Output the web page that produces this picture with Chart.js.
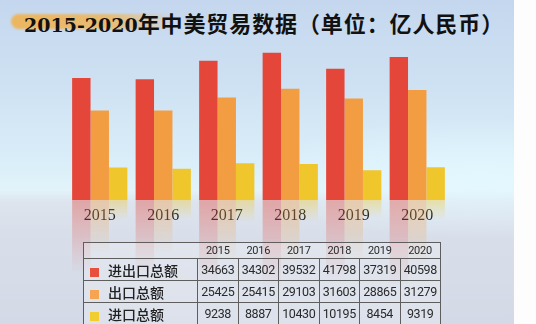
<!DOCTYPE html>
<html>
<head>
<meta charset="utf-8">
<script src="https://cdn.jsdelivr.net/npm/chart.js@4.4.0/dist/chart.umd.min.js"></script>
<style>
  html, body { margin: 0; padding: 0; width: 536px; height: 324px; overflow: hidden; background: #fdfdfe; }
  #bg {
    position: absolute; left: 0; top: 0; width: 514px; height: 324px;
    background:
      radial-gradient(ellipse 240px 60px at 480px 178px, rgba(228,248,255,0.9), rgba(228,248,255,0) 100%),
      linear-gradient(to bottom, #c5d7ee 0px, #cfe2f3 90px, #d9eef9 160px, #e2f3fa 190px, #dde4ee 202px, #d8dee9 240px, #d3d9e6 324px);
  }
  #title {
    position: absolute; left: 24px; top: 8px; white-space: nowrap;
    color: #111; line-height: 28px;
  }
  #title .num { font-family: "DejaVu Serif", serif; font-weight: bold; font-size: 19px; }
  #title .cjk { font-family: "Noto Sans CJK SC", sans-serif; font-weight: bold; font-size: 22px; letter-spacing: 0.9px; }
  #mark {
    position: absolute; left: 11px; top: 14px; width: 165px; height: 15px;
    border-radius: 8px;
    background: linear-gradient(to right, rgba(240,178,80,0.9) 0%, rgba(240,180,85,0.8) 60%, rgba(240,185,95,0) 100%);
    filter: blur(1px);
  }
  canvas { position: absolute; left: 0; top: 0; }
  #tbl {
    position: absolute; left: 83px; top: 242px; border-collapse: collapse; table-layout: fixed;
    width: 357px; background: rgba(255,255,255,0.22);
    font-family: Roboto, "Noto Sans CJK SC", sans-serif; color: #2a2a2a;
  }
  #tbl td { border: 1px solid #5e5e5e; padding: 0; text-align: center; font-size: 12.5px; letter-spacing: -0.4px; height: 21px; }
  #tbl tr.head td { height: 15px; font-size: 11px; letter-spacing: -0.3px; border-left: none; border-right: none; border-bottom: 1px solid #5e5e5e; }
  #tbl tr.head td:first-child { border-left: 1px solid #5e5e5e; }
  #tbl tr.head td:last-child { border-right: 1px solid #5e5e5e; }
  #tbl td.lab { text-align: left; font-family: "Noto Sans CJK SC", sans-serif; font-size: 14px; font-weight: 500; letter-spacing: 0; color: #222; }
  #tbl .sw { display: inline-block; width: 9px; height: 9px; margin: 0 9px 0 6px; vertical-align: -1px; }
</style>
</head>
<body>
<div id="bg"></div>
<div id="mark"></div>
<div id="title"><span class="num">2015-2020</span><span class="cjk">年中美贸易数据（单位：亿人民币）</span></div>
<canvas id="c" width="514" height="324"></canvas>
<table id="tbl"></table>
<script>
// data (亿人民币)
var years   = ['2015', '2016', '2017', '2018', '2019', '2020'];
var total   = [34663, 34302, 39532, 41798, 37319, 40598];
var exports = [25425, 25415, 29103, 31603, 28865, 31279];
var imports = [9238, 8887, 10430, 10195, 8454, 9319];
var names   = ['进出口总额', '出口总额', '进口总额'];
var colors  = ['#e4463a', '#f39d42', '#efc62c'];
var swatch  = ['#e8503e', '#f6a452', '#f2cd30'];

function hexA(hex, a) {
  var n = parseInt(hex.slice(1), 16);
  return 'rgba(' + (n >> 16) + ',' + ((n >> 8) & 255) + ',' + (n & 255) + ',' + a + ')';
}

// faded mirror of each bar under the baseline
var reflection = {
  id: 'reflection',
  afterDatasetsDraw: function (chart) {
    var ctx = chart.ctx;
    var base = chart.chartArea.bottom;
    chart.data.datasets.forEach(function (ds, i) {
      chart.getDatasetMeta(i).data.forEach(function (bar) {
        var h = (base - bar.y) * 0.6;
        var grad = ctx.createLinearGradient(0, base, 0, base + h);
        grad.addColorStop(0, hexA(ds.backgroundColor, 0.4));
        grad.addColorStop(1, hexA(ds.backgroundColor, 0));
        ctx.save();
        ctx.fillStyle = grad;
        ctx.fillRect(bar.x - bar.width / 2, base, bar.width, h);
        ctx.restore();
      });
    });
  }
};

new Chart(document.getElementById('c'), {
  type: 'bar',
  data: {
    labels: years,
    datasets: [
      { label: names[0], data: total,   backgroundColor: colors[0] },
      { label: names[1], data: exports, backgroundColor: colors[1] },
      { label: names[2], data: imports, backgroundColor: colors[2] }
    ]
  },
  options: {
    responsive: false, animation: false,
    categoryPercentage: 0.87, barPercentage: 1,
    layout: { padding: { left: 68, right: 65, top: 41.6, bottom: 0 } },
    plugins: { legend: { display: false }, tooltip: { enabled: false } },
    scales: {
      x: {
        z: 1,
        grid: { display: false, drawTicks: false },
        border: { display: false },
        ticks: { padding: 6, color: '#1e1e1e', font: { family: 'Liberation Serif', size: 16 } },
        afterFit: function (s) { s.height = 124; }
      },
      y: { display: false, min: 0, max: 45000 }
    }
  },
  plugins: [reflection]
});

// data table under the chart, built from the same arrays
var tbl = document.getElementById('tbl');
var html = '<colgroup><col style="width:114px">';
years.forEach(function () { html += '<col style="width:40.5px">'; });
html += '</colgroup><tr class="head"><td></td>';
years.forEach(function (y) { html += '<td>' + y + '</td>'; });
html += '</tr>';
[total, exports, imports].forEach(function (row, i) {
  html += '<tr><td class="lab"><span class="sw" style="background:' + swatch[i] + '"></span>' + names[i] + '</td>';
  row.forEach(function (v) { html += '<td>' + v + '</td>'; });
  html += '</tr>';
});
tbl.innerHTML = html;
</script>
</body>
</html>
